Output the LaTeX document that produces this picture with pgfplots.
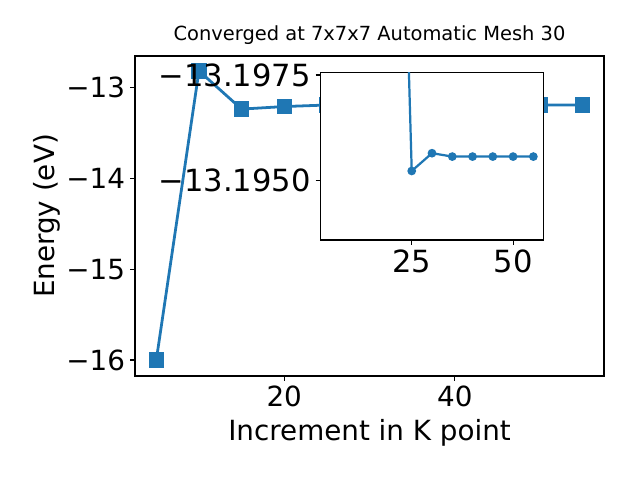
\documentclass[border=0pt]{standalone}
\usepackage{fontspec}
\setmainfont{DejaVu Sans}
\usepackage{pgfplots}
\pgfplotsset{compat=1.18}
\definecolor{mplblue}{HTML}{1F77B4}
\begin{document}
\begin{tikzpicture}
\useasboundingbox (0,0) rectangle (460.8bp,345.6bp);
\begin{axis}[
  at={(97.2bp,74.88bp)}, anchor=south west,
  scale only axis, width=337.68bp, height=230.4bp,
  xmin=2.5, xmax=57.5, ymin=-16.176, ymax=-12.656,
  xtick={20,40}, xticklabels={20,40},
  ytick={-16,-15,-14,-13}, yticklabels={−16,−15,−14,−13},
  tick align=outside, major tick length=3.5bp, tick pos=left,
  every tick/.style={black, line width=0.8bp},
  axis line style={line width=0.8bp},
  tick label style={font=\fontsize{20bp}{24bp}\selectfont, inner sep=0pt},
  xticklabel style={anchor=north, yshift=-3.5bp},
  yticklabel style={anchor=east, xshift=-3.5bp},
  title={Converged at 7x7x7 Automatic Mesh 30},
  title style={at={(0.5,1)}, anchor=base, yshift=5.5bp, inner sep=0pt, font=\fontsize{14bp}{17bp}\selectfont},
  xlabel={Increment in K point},
  xlabel style={at={(axis description cs:0.5,-0.2)}, anchor=base, inner sep=0pt, font=\fontsize{20bp}{24bp}\selectfont},
  ylabel={Energy (eV)},
  ylabel style={at={(axis description cs:-0.1727,0.5)}, anchor=base, inner sep=0pt, font=\fontsize{20bp}{24bp}\selectfont},
]
\addplot[mplblue, line width=2bp, mark=square*, mark size=5bp, mark options={solid, line width=1bp}]
  coordinates {(5,-16.00) (10,-12.82) (15,-13.24) (20,-13.212) (25,-13.1952) (30,-13.1957) (35,-13.1956) (40,-13.1956) (45,-13.1956) (50,-13.1956) (55,-13.1956)};
\end{axis}
% inset: energies as meV offsets from -13.19 eV
\begin{axis}[
  at={(230.76bp,172.8bp)}, anchor=south west,
  scale only axis, width=160.56bp, height=120.46bp,
  xmin=2.5, xmax=57.5, ymin=-7.554, ymax=-3.597, y dir=reverse,
  axis background/.style={fill=white},
  xtick={25,50}, xticklabels={25,50},
  ytick={-7.5,-5.0}, yticklabels={−13.1975,−13.1950},
  tick align=outside, major tick length=3.5bp, tick pos=left,
  every tick/.style={black, line width=0.8bp},
  axis line style={line width=0.8bp},
  tick label style={font=\fontsize{22bp}{26bp}\selectfont, inner sep=0pt},
  xticklabel style={anchor=north, yshift=-3.5bp},
  yticklabel style={anchor=east, xshift=-3.5bp},
]
\addplot[mplblue, line width=1.6bp, mark=*, mark size=2.3bp, mark options={solid}]
  coordinates {(20,-22) (25,-5.23) (30,-5.65) (35,-5.57) (40,-5.57) (45,-5.57) (50,-5.57) (55,-5.57)};
\end{axis}
\end{tikzpicture}
\end{document}
